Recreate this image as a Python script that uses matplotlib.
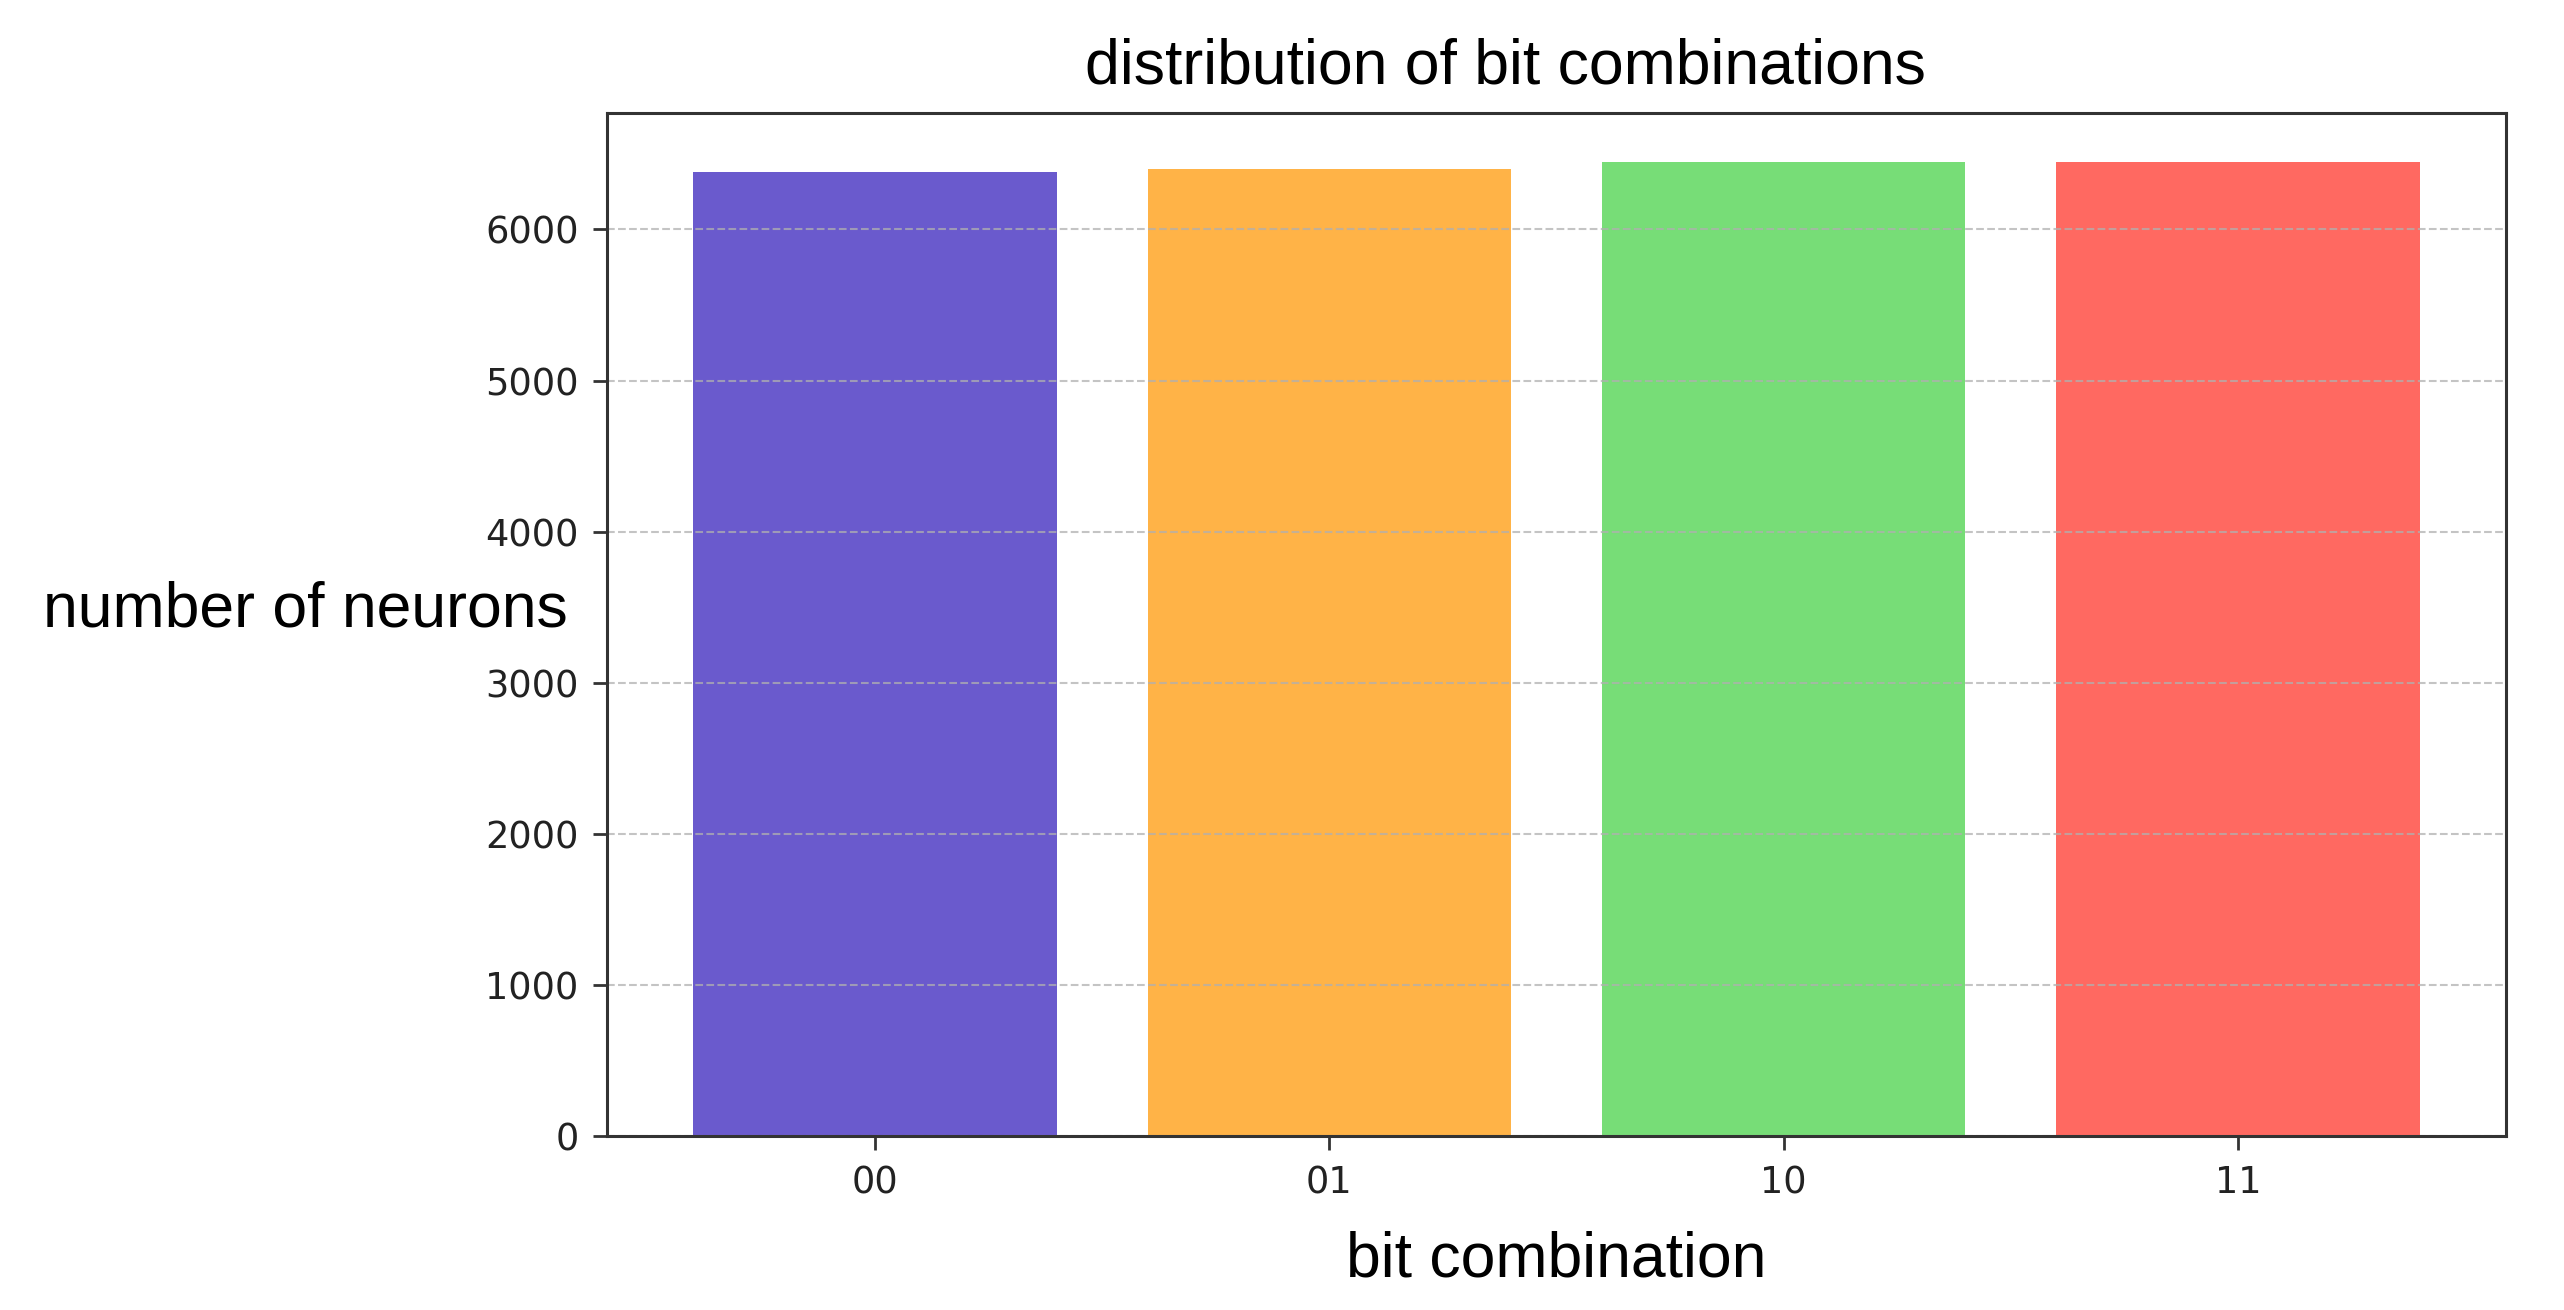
import numpy as np
import matplotlib
matplotlib.use('Agg')
import matplotlib.pyplot as plt

combos = ['00', '01', '10', '11']
counts = [6382, 6403, 6448, 6446]
colors = ['#6A5ACD', '#FFB347', '#77DD77', '#FF6961']

label_font = 'Liberation Sans'

fig = plt.figure(figsize=(25.64, 13.10), dpi=100)
ax = fig.add_axes([607/2564, 1 - 1136/1310, (2506-607)/2564, (1136-113)/1310])

x = np.arange(len(combos))
ax.bar(x, counts, width=0.8, color=colors)
ax.set_xticks(x)
ax.set_xticklabels(combos)

ax.grid(axis='y', linestyle='--', color='#b0b0b0', alpha=0.75, linewidth=1.5)

for s in ax.spines.values():
    s.set_linewidth(2.2)
    s.set_color('#333333')
ax.tick_params(axis='both', length=10, width=2, pad=10.5, labelsize=26.5,
               labelcolor='#222222', color='#333333')

ax.set_title('distribution of bit combinations', fontsize=45, family=label_font,
             x=0.473, pad=21)
ax.set_ylabel('number of neurons', fontsize=45, family=label_font,
              rotation=0, ha='right', va='baseline')
ax.yaxis.set_label_coords(-0.0205, 0.4976)
ax.set_xlabel('bit combination', fontsize=45, family=label_font, va='baseline')
ax.xaxis.set_label_coords(0.5, -0.1378)

plt.savefig('out.png', dpi=100)
